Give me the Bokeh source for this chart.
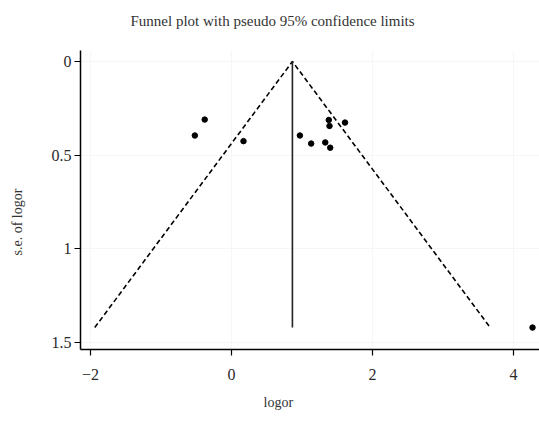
from bokeh.plotting import figure
from bokeh.models import Range1d, FixedTicker, Title, ColumnDataSource
from bokeh.embed import file_html
from bokeh.resources import INLINE

# Study estimates
logor = [-0.38, -0.52, 0.17, 0.97, 1.13, 1.33, 1.40, 1.38, 1.39, 1.61, 4.27]
se_logor = [0.31, 0.395, 0.425, 0.395, 0.438, 0.432, 0.46, 0.312, 0.344, 0.326, 1.42]

# Funnel (pseudo 95% limits) and pooled estimate
pooled = 0.864
funnel_x = [-1.94, 0.864, 3.67]
funnel_se = [1.42, 0.0, 1.42]
pooled_se = [0.0, 1.42]

x_ticks = [-2, 0, 2, 4]
x_tick_labels = ["\u22122", "0", "2", "4"]
y_ticks = [0, 0.5, 1, 1.5]
y_tick_labels = ["0", "0.5", "1", "1.5"]

FONT = "Liberation Serif"

p = figure(width=539, height=424, output_backend="svg", toolbar_location=None,
           x_range=Range1d(-2.142, 4.369), y_range=Range1d(1.537, -0.0587),
           min_border_left=80, min_border_right=0, min_border_top=50,
           min_border_bottom=75)

p.title.text = "Funnel plot with pseudo 95% confidence limits"
p.title.text_font = FONT
p.title.text_font_size = "15px"
p.title.text_font_style = "normal"
p.title.text_color = "#333333"
p.title.align = "left"
p.title.offset = 50
p.title.standoff = 0

# spacer between frame and title
p.add_layout(Title(text=" ", text_font_size="1px", standoff=19), "above")

p.outline_line_color = None
p.background_fill_color = "white"
p.border_fill_color = "white"

for g in (p.xgrid, p.ygrid):
    g.grid_line_color = "#f6f6f6"
    g.grid_line_width = 1
p.xgrid.ticker = FixedTicker(ticks=x_ticks)
p.ygrid.ticker = FixedTicker(ticks=y_ticks)

xa = p.xaxis[0]
xa.ticker = FixedTicker(ticks=x_ticks)
xa.major_label_overrides = {t: l for t, l in zip(x_ticks, x_tick_labels)}
ya = p.yaxis[0]
ya.ticker = FixedTicker(ticks=y_ticks)
ya.major_label_overrides = {t: l for t, l in zip(y_ticks, y_tick_labels)}

for ax in (xa, ya):
    ax.axis_line_color = "black"
    ax.axis_line_width = 1.5
    ax.major_tick_line_color = "black"
    ax.major_tick_line_width = 1.2
    ax.major_tick_out = 6
    ax.major_tick_in = 0
    ax.minor_tick_line_color = None
    ax.major_label_text_font = FONT
    ax.major_label_text_font_size = "16px"
    ax.major_label_text_color = "#2a2a2a"
xa.major_label_standoff = 13
ya.major_label_standoff = 3
ya.major_label_orientation = "horizontal"

xlab = Title(text="logor", align="left", offset=183, standoff=21,
             text_font=FONT, text_font_size="14px", text_font_style="normal",
             text_color="#333333")
p.add_layout(xlab, "below")

# spacer between y axis and its label
p.add_layout(Title(text=" ", text_font_size="1px", standoff=21), "left")
ylab = Title(text="s.e. of logor", align="left", offset=94, standoff=0,
             text_font=FONT, text_font_size="14px", text_font_style="normal",
             text_color="#333333")
p.add_layout(ylab, "left")

p.line(funnel_x, funnel_se, line_color="black", line_width=1.6, line_dash="5 3")
p.line([pooled, pooled], pooled_se, line_color="#222222", line_width=1.6)

src = ColumnDataSource(dict(x=logor, y=se_logor))
p.scatter("x", "y", source=src, marker="circle", size=5.5,
          fill_color="black", line_color="black")

open("out.html", "w").write(file_html(p, INLINE))
